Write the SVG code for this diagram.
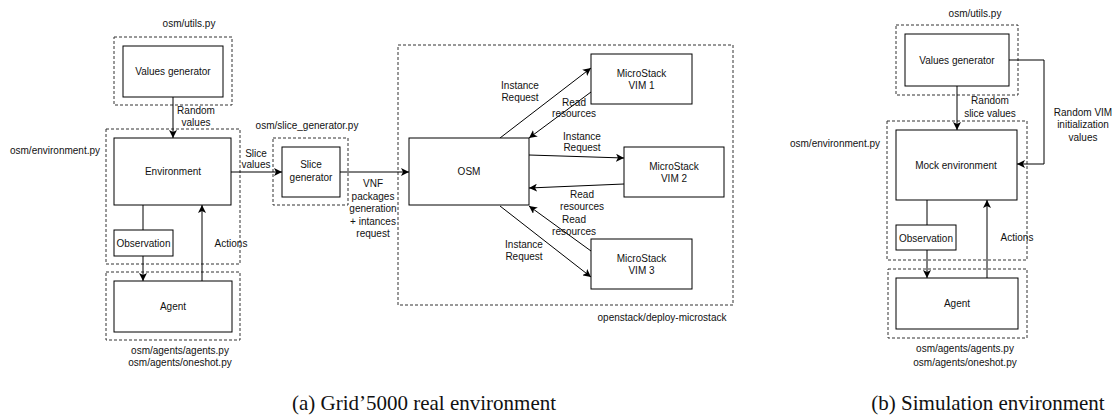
<svg xmlns="http://www.w3.org/2000/svg" width="1117" height="419" viewBox="0 0 1117 419">
<defs>
<marker id="arr" markerWidth="9" markerHeight="8" refX="8" refY="4" orient="auto" markerUnits="userSpaceOnUse">
<path d="M0,0 L8,4 L0,8 L2,4 z" fill="#000"/>
</marker>
<style>
.box{fill:#fff;stroke:#000;stroke-width:1}
.dash{fill:none;stroke:#333;stroke-width:1;stroke-dasharray:3,2}
.t{font-family:"Liberation Sans",Arial,sans-serif;font-size:10px;fill:#111;text-anchor:middle}
.c{stroke:#000;stroke-width:1;fill:none}
.a{stroke:#000;stroke-width:1;fill:none;marker-end:url(#arr)}
.cap{font-family:"Liberation Serif","DejaVu Serif",serif;font-size:21px;fill:#111;text-anchor:middle}
</style>
</defs>
<rect width="1117" height="419" fill="#fff"/>

<!-- containers (left) -->
<g id="left-containers">
<rect class="dash" x="114" y="37" width="118" height="68"/>
<text class="t" x="189" y="27">osm/utils.py</text>
<rect class="dash" x="106" y="129" width="134" height="135"/>
<text class="t" x="55" y="154">osm/environment.py</text>
<rect class="dash" x="106" y="272" width="134" height="68"/>
<text class="t" x="180" y="354">osm/agents/agents.py</text>
<text class="t" x="180" y="366">osm/agents/oneshot.py</text>
<rect class="dash" x="273" y="138" width="75" height="67"/>
<text class="t" x="307" y="129">osm/slice_generator.py</text>
<rect class="dash" x="398" y="45" width="335" height="260"/>
<text class="t" x="662" y="321">openstack/deploy-microstack</text>
</g>

<!-- connectors (left) -->
<g id="left-connectors">
<line class="a" x1="173" y1="97" x2="173" y2="138"/>
<text class="t" x="196" y="114">Random</text>
<text class="t" x="196" y="126">values</text>
<line class="c" x1="143" y1="205" x2="143" y2="230"/>
<line class="a" x1="143" y1="256" x2="143" y2="281"/>
<line class="a" x1="202" y1="281" x2="202" y2="205"/>
<text class="t" x="231" y="247">Actions</text>
<line class="a" x1="231" y1="172" x2="282" y2="172"/>
<text class="t" x="256" y="157">Slice</text>
<text class="t" x="256" y="168">values</text>
<line class="a" x1="340" y1="172" x2="409" y2="172"/>
<text class="t" x="373" y="187">VNF</text>
<text class="t" x="373" y="199.5">packages</text>
<text class="t" x="373" y="212">generation</text>
<text class="t" x="373" y="224.5">+ intances</text>
<text class="t" x="373" y="237">request</text>
<line class="a" x1="500" y1="138" x2="591" y2="68"/>
<text class="t" x="520" y="88.5">Instance</text>
<text class="t" x="520" y="100.5">Request</text>
<line class="a" x1="591" y1="92" x2="529" y2="138"/>
<text class="t" x="574" y="105.5">Read</text>
<text class="t" x="574" y="117">resources</text>
<line class="a" x1="529" y1="155" x2="624" y2="158"/>
<text class="t" x="582" y="139.5">Instance</text>
<text class="t" x="582" y="151">Request</text>
<line class="a" x1="624" y1="184" x2="529" y2="188"/>
<text class="t" x="582" y="197.5">Read</text>
<text class="t" x="582" y="209.5">resources</text>
<line class="a" x1="591" y1="251" x2="529" y2="206"/>
<text class="t" x="574" y="222.5">Read</text>
<text class="t" x="574" y="234.5">resources</text>
<line class="a" x1="500" y1="206" x2="591" y2="277"/>
<text class="t" x="524" y="247.5">Instance</text>
<text class="t" x="524" y="259.5">Request</text>
</g>

<!-- nodes (left) -->
<g id="l-values"><rect class="box" x="123" y="46" width="100" height="51"/><text class="t" x="173" y="75">Values generator</text></g>
<g id="l-env"><rect class="box" x="114" y="138" width="117" height="67"/><text class="t" x="173" y="175">Environment</text></g>
<g id="l-obs"><rect class="box" x="114" y="230" width="59" height="26"/><text class="t" x="143.5" y="247">Observation</text></g>
<g id="l-agent"><rect class="box" x="114" y="281" width="118" height="51"/><text class="t" x="173" y="310">Agent</text></g>
<g id="l-slicegen"><rect class="box" x="282" y="147" width="58" height="50"/><text class="t" x="311" y="168">Slice</text><text class="t" x="311" y="181">generator</text></g>
<g id="l-osm"><rect class="box" x="409" y="138" width="120" height="67"/><text class="t" x="469" y="175">OSM</text></g>
<g id="l-vim1"><rect class="box" x="591" y="54" width="101" height="50"/><text class="t" x="641.5" y="76.5">MicroStack</text><text class="t" x="641.5" y="88.5">VIM 1</text></g>
<g id="l-vim2"><rect class="box" x="624" y="147" width="100" height="50"/><text class="t" x="674" y="169.5">MicroStack</text><text class="t" x="674" y="181.5">VIM 2</text></g>
<g id="l-vim3"><rect class="box" x="591" y="239" width="101" height="50"/><text class="t" x="641.5" y="261.5">MicroStack</text><text class="t" x="641.5" y="273.5">VIM 3</text></g>

<!-- containers (right) -->
<g id="right-containers">
<rect class="dash" x="896" y="25" width="122" height="70"/>
<text class="t" x="975" y="17">osm/utils.py</text>
<rect class="dash" x="887" y="121" width="140" height="139"/>
<text class="t" x="835" y="147">osm/environment.py</text>
<rect class="dash" x="888" y="269" width="139" height="69"/>
<text class="t" x="965" y="352">osm/agents/agents.py</text>
<text class="t" x="965" y="366">osm/agents/oneshot.py</text>
</g>

<!-- connectors (right) -->
<g id="right-connectors">
<line class="a" x1="957" y1="86" x2="957" y2="130"/>
<text class="t" x="990" y="104">Random</text>
<text class="t" x="990" y="117">slice values</text>
<polyline class="a" points="1009,60 1044,60 1044,164 1017,164"/>
<text class="t" x="1083" y="115.5">Random VIM</text>
<text class="t" x="1083" y="128">initialization</text>
<text class="t" x="1083" y="140.5">values</text>
<line class="c" x1="927" y1="200" x2="927" y2="225"/>
<line class="a" x1="927" y1="250" x2="927" y2="278"/>
<line class="a" x1="987" y1="278" x2="987" y2="200"/>
<text class="t" x="1017" y="241">Actions</text>
</g>

<!-- nodes (right) -->
<g id="r-values"><rect class="box" x="905" y="34" width="104" height="52"/><text class="t" x="957" y="64">Values generator</text></g>
<g id="r-env"><rect class="box" x="896" y="130" width="121" height="70"/><text class="t" x="956" y="169">Mock environment</text></g>
<g id="r-obs"><rect class="box" x="896" y="225" width="60" height="25"/><text class="t" x="926" y="241.5">Observation</text></g>
<g id="r-agent"><rect class="box" x="896" y="278" width="122" height="51"/><text class="t" x="957" y="307">Agent</text></g>

<g id="captions">
<text class="cap" x="424" y="410">(a) Grid’5000 real environment</text>
<text class="cap" x="988" y="410">(b) Simulation environment</text>
</g>
</svg>
